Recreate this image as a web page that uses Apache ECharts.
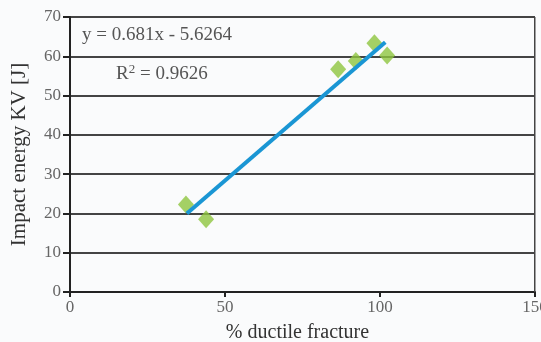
<!DOCTYPE html>
<html>
<head>
<meta charset="utf-8">
<script src="https://cdn.jsdelivr.net/npm/echarts@6/dist/echarts.min.js"></script>
<style>
  html, body { margin: 0; padding: 0; background: #fafbfc; }
  #chart { width: 541px; height: 342px; }
</style>
</head>
<body>
<div id="chart"></div>
<script>
// measured points (% ductile fracture, impact energy)
var ductile = [37.4, 43.9, 86.5, 92.2, 98.2, 102.3];
var energy = [22.3, 18.5, 56.7, 58.8, 63.3, 60.2];
// linear trend line end points
var trendX = [37.7, 101.7];
var trendY = [20.0, 63.6];
var xTicks = [0, 50, 100, 150];
var yTicks = [0, 10, 20, 30, 40, 50, 60, 70];

var font = 'Liberation Serif';

var myChart = echarts.init(document.getElementById('chart'));
myChart.setOption({
    backgroundColor: '#fafbfc',
    animation: false,
    grid: { left: 70, right: 6, top: 17, bottom: 50, containLabel: false, outerBoundsMode: 'none' },
    xAxis: {
        type: 'value',
        min: xTicks[0],
        max: xTicks[xTicks.length - 1],
        interval: 50,
        name: '% ductile fracture',
        nameLocation: 'middle',
        nameGap: 31,
        nameTextStyle: { fontFamily: font, fontSize: 20, color: '#333', padding: [0, 10, 0, 0] },
        axisLine: { lineStyle: { color: '#222', width: 2 } },
        axisTick: { show: true, length: 5, lineStyle: { color: '#222', width: 2 } },
        axisLabel: { fontFamily: font, fontSize: 17, color: '#666', margin: 7 },
        splitLine: { show: false }
    },
    yAxis: {
        type: 'value',
        min: yTicks[0],
        max: yTicks[yTicks.length - 1],
        interval: 10,
        name: 'Impact energy KV [J]',
        nameLocation: 'middle',
        nameGap: 40,
        nameTextStyle: { fontFamily: font, fontSize: 21, color: '#333' },
        axisLine: { show: true, lineStyle: { color: '#222', width: 2 } },
        axisTick: { show: true, length: 7, lineStyle: { color: '#222', width: 2 } },
        axisLabel: { fontFamily: font, fontSize: 17, color: '#666', margin: 9 },
        splitLine: { show: true, lineStyle: { color: '#444', width: 2 } }
    },
    graphic: [
        {
            type: 'rect',
            shape: { x: 534, y: 17, width: 1.5, height: 275 },
            style: { fill: '#444' },
            z: 10
        },
        {
            type: 'text',
            left: 82,
            top: 26,
            style: { text: 'y = 0.681x - 5.6264', fontFamily: font, fontSize: 19, fill: '#555' }
        },
        {
            type: 'text',
            left: 116,
            top: 63,
            style: {
                text: 'R{sup|2} = 0.9626',
                fontFamily: font, fontSize: 19, fill: '#555',
                rich: { sup: { fontFamily: font, fontSize: 13, fill: '#555', verticalAlign: 'top', padding: [0, 0, 9, 0] } }
            }
        }
    ],
    series: [
        {
            name: 'Trend',
            type: 'line',
            data: trendX.map(function (x, i) { return [x, trendY[i]]; }),
            symbol: 'none',
            lineStyle: { color: '#1a96d4', width: 4 },
            z: 3
        },
        {
            name: 'Measured',
            type: 'scatter',
            data: ductile.map(function (x, i) { return [x, energy[i]]; }),
            symbol: 'diamond',
            symbolSize: [16, 18],
            itemStyle: { color: '#8ec63f' },
            z: 2
        }
    ]
});
</script>
</body>
</html>
